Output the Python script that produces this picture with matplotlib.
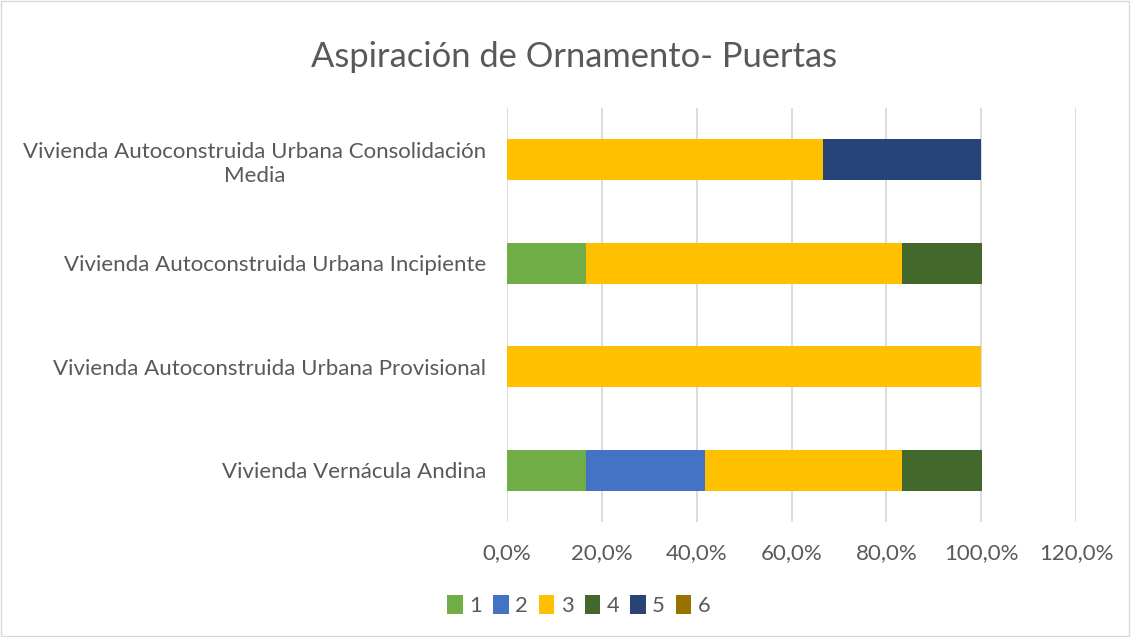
import numpy as np
import matplotlib
matplotlib.use('Agg')
from matplotlib import pyplot as plt
from matplotlib.ticker import FuncFormatter

# Datos
categorias = ['Vivienda Vernácula Andina',
              'Vivienda Autoconstruida Urbana Provisional',
              'Vivienda Autoconstruida Urbana Incipiente',
              'Vivienda Autoconstruida Urbana Consolidación\nMedia']
series = ['1', '2', '3', '4', '5', '6']
s1 = [0.167, 0.0, 0.167, 0.0]
s2 = [0.250, 0.0, 0.0, 0.0]
s3 = [0.417, 1.0, 0.667, 0.667]
s4 = [0.167, 0.0, 0.167, 0.0]
s5 = [0.0, 0.0, 0.0, 0.333]
s6 = [0.0, 0.0, 0.0, 0.0]
valores = [s1, s2, s3, s4, s5, s6]
colores = ['#70AD47', '#4472C4', '#FFC000', '#43682B', '#264478', '#997300']

plt.rcParams['font.family'] = ['Lato', 'DejaVu Sans']
gris = '#595959'

fig = plt.figure(figsize=(11.31, 6.37), dpi=100)
# borde del grafico
fig.patches.append(plt.Rectangle((0.001, 0.002), 0.997, 0.996, transform=fig.transFigure,
                                 fill=False, edgecolor='#D9D9D9', linewidth=1))
ax = fig.add_axes([0.4483, 0.1805, 0.5031, 0.65])

y = np.arange(len(categorias))
izq = np.zeros(len(categorias))
for nom, vals, c in zip(series, valores, colores):
    vals = np.array(vals)
    ax.barh(y, vals, left=izq, height=0.4, color=c, label=nom, zorder=3)
    izq += vals

ax.set_xlim(0, 1.2)
ax.set_ylim(-0.5, len(categorias) - 0.5)
ax.set_xticks(np.arange(0, 1.21, 0.2))
ax.xaxis.set_major_formatter(FuncFormatter(lambda v, p: ('%.1f%%' % (v * 100)).replace('.', ',')))
ax.set_yticks(y)
ax.set_yticklabels(categorias, ha='right', multialignment='center', linespacing=1.25)
ax.tick_params(axis='both', length=0, colors=gris, labelsize=16)
ax.tick_params(axis='x', pad=15)
ax.tick_params(axis='y', pad=15)
ax.grid(axis='x', color='#D9D9D9', linewidth=1.3, zorder=0)
for s in ax.spines.values():
    s.set_visible(False)

fig.text(0.5075, 0.911, 'Aspiración de Ornamento- Puertas', ha='center', va='center',
         fontsize=24.8, color=gris)

ax.legend(loc='center', bbox_to_anchor=(0.512, 0.049), bbox_transform=fig.transFigure,
          ncol=6, frameon=False, handlelength=0.7, handleheight=0.9, handletextpad=0.3,
          columnspacing=0.5, fontsize=15.8, labelcolor=gris)

plt.savefig('out.png', dpi=100)
